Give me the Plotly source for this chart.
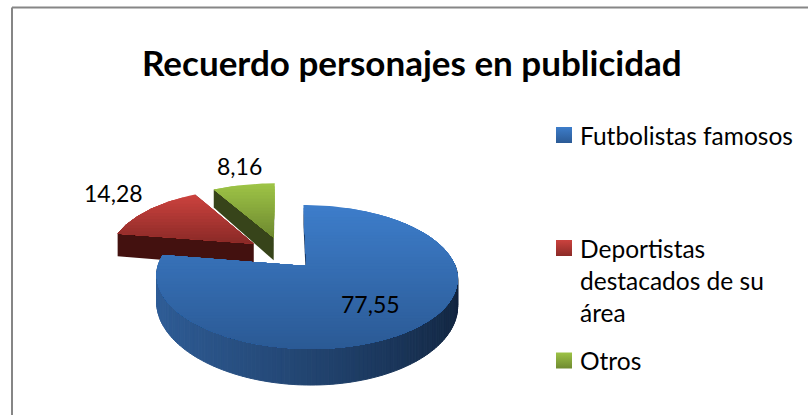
import math

import plotly.graph_objects as go

# chart data
categories = ["Futbolistas famosos", "Deportistas<br>destacados de su<br>área", "Otros"]
values = [77.55, 14.28, 8.16]
title_text = "Recuerdo personajes en publicidad"

# per slice colours: top of face, bottom of face, cut face
top_hi = ["#3d7dca", "#cb423e", "#9dc346"]
top_lo = ["#2b5a95", "#8b2a27", "#6f8a30"]
cut_col = ["#1b3c68", "#43110f", "#37441a"]
# rim shading from left to right of the pie
rim_left = ["#2f5d97", "#7a2522", "#5f7728"]
rim_right = ["#10223b", "#3a0f0d", "#303c16"]

# projection of the pie disc on the page
CX, CY = 282.5, 253
A, B = 144.5, 66.4
K = 0.148
EXPLODE = 0.25
DEPTH = 24.5

FONT = "Lato"


def hex2rgb(c):
    return [int(c[i:i + 2], 16) for i in (1, 3, 5)]


def mix(c1, c2, t):
    a, b = hex2rgb(c1), hex2rgb(c2)
    return "rgb(%d,%d,%d)" % tuple(round(a[i] + (b[i] - a[i]) * t) for i in range(3))


def project(u, v, drop=False):
    w = 1 + K * v
    x = CX + A * u / w
    y = CY - B * v / w
    if drop:
        y += DEPTH / (w * w)
    return x, y


def clip_below(poly, yc):
    # keep the part of the polygon under the line y=yc (page y grows downwards)
    out = []
    for i in range(len(poly)):
        p, q = poly[i], poly[(i + 1) % len(poly)]
        if p[1] >= yc:
            out.append(p)
        if (p[1] >= yc) != (q[1] >= yc):
            t = (yc - p[1]) / (q[1] - p[1])
            out.append((p[0] + (q[0] - p[0]) * t, yc))
    return out


def add_poly(fig, poly, color, edge=0):
    xs = [p[0] for p in poly] + [poly[0][0]]
    ys = [p[1] for p in poly] + [poly[0][1]]
    fig.add_trace(go.Scatter(x=xs, y=ys, mode="lines", fill="toself", fillcolor=color,
                             line=dict(color=color, width=edge), hoverinfo="skip", showlegend=False))


fig = go.Figure()

total = sum(values)
slices = []
start = 0
for v in values:
    end = start + v / total * 2 * math.pi
    slices.append((start, end))
    start = end

# back slices first, blue last
for i in [2, 1, 0]:
    a0, a1 = slices[i]
    mid = (a0 + a1) / 2
    ou = EXPLODE * math.sin(mid)
    ov = EXPLODE * math.cos(mid)
    n = max(8, int((a1 - a0) * 40))
    angs = [a0 + (a1 - a0) * j / n for j in range(n + 1)]
    rim = [(ou + math.sin(t), ov + math.cos(t)) for t in angs]

    # outer wall, only the part turned to the viewer
    for j in range(n):
        t = (angs[j] + angs[j + 1]) / 2
        if math.cos(t) > 0.05:
            continue
        p, q = rim[j], rim[j + 1]
        quad = [project(*p), project(*q), project(*q, drop=True), project(*p, drop=True)]
        s = (1 - math.sin(t)) / 2
        # goes dark quickly towards the right side
        add_poly(fig, quad, mix(rim_right[i], rim_left[i], s ** 0.8), edge=1)

    # cut faces, the far one first
    for r in (rim[-1], rim[0]):
        quad = [project(ou, ov), project(*r), project(*r, drop=True), project(ou, ov, drop=True)]
        add_poly(fig, quad, cut_col[i])

    # top face, vertical gradient painted from top to bottom
    face = [project(ou, ov)] + [project(*p) for p in rim]
    ymin = min(p[1] for p in face)
    ymax = max(p[1] for p in face)
    bands = max(10, int((ymax - ymin) / 3))
    for b in range(bands):
        yc = ymin + (ymax - ymin) * b / bands
        part = clip_below(face, yc)
        if len(part) > 2:
            add_poly(fig, part, mix(top_hi[i], top_lo[i], b / (bands - 1)))

# value labels
label_x = [370, 113, 239]
label_y = [304, 193, 166]
for i, v in enumerate(values):
    fig.add_annotation(x=label_x[i], y=label_y[i], text=f"{v:.2f}".replace(".", ","), showarrow=False,
                       font=dict(family=FONT, size=23, color="#000000"))

# legend, spaced like the original
swatch_y = [135, 248, 360.5]
text_y = [135, 280, 360.5]
for i, c in enumerate(categories):
    fig.add_trace(go.Scatter(x=[564], y=[swatch_y[i]], mode="markers", hoverinfo="skip", showlegend=False,
                             marker=dict(symbol="square", size=16, color=top_hi[i], line_width=0,
                                         gradient=dict(type="vertical", color=top_lo[i]))))
    fig.add_annotation(x=578, y=text_y[i], text=c, showarrow=False, xanchor="left", align="left",
                       font=dict(family=FONT, size=24.5, color="#000000"))

fig.add_annotation(x=412, y=62, text="<b>%s</b>" % title_text, showarrow=False,
                   font=dict(family=FONT, size=35, color="#000000"))

# chart frame, open to the right and the bottom of the page
frame = dict(color="#868686", width=2)
fig.add_shape(type="line", x0=12, y0=7.5, x1=808, y1=7.5, line=frame)
fig.add_shape(type="line", x0=12, y0=7.5, x1=12, y1=415, line=frame)

fig.update_layout(
    width=808, height=415,
    margin=dict(l=0, r=0, t=0, b=0),
    paper_bgcolor="white", plot_bgcolor="white",
    showlegend=False,
    xaxis=dict(range=[0, 808], visible=False, fixedrange=True),
    yaxis=dict(range=[415, 0], visible=False, fixedrange=True),
)

# the page's default body margin would push the chart off by 8px
fig.write_html("out.html", config={"displayModeBar": False},
               post_script="document.body.style.margin='0';document.body.style.overflow='hidden';")
